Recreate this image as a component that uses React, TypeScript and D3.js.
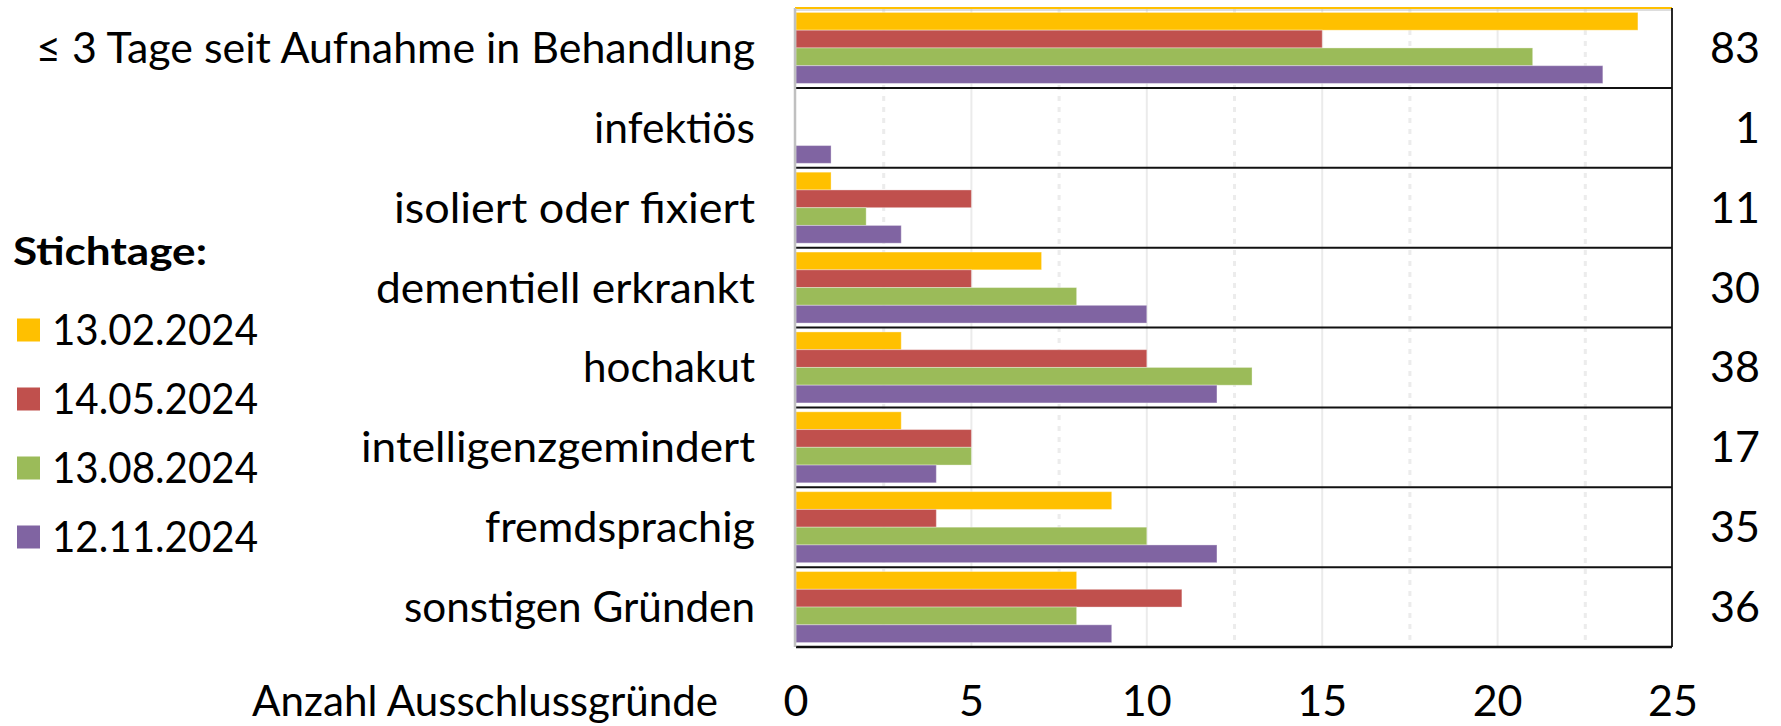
import React from "react";
import * as d3 from "d3";

const categories = [
  "≤ 3 Tage seit Aufnahme in Behandlung",
  "infektiös",
  "isoliert oder fixiert",
  "dementiell erkrankt",
  "hochakut",
  "intelligenzgemindert",
  "fremdsprachig",
  "sonstigen Gründen",
];
const seriesNames = ["13.02.2024", "14.05.2024", "13.08.2024", "12.11.2024"];
const seriesColors = ["#FFC000", "#C0504D", "#9BBB59", "#8064A2"];
const values13_02 = [24, 0, 1, 7, 3, 3, 9, 8];
const values14_05 = [15, 0, 5, 5, 10, 5, 4, 11];
const values13_08 = [21, 0, 2, 8, 13, 5, 10, 8];
const values12_11 = [23, 1, 3, 10, 12, 4, 12, 9];
const totals = [83, 1, 11, 30, 38, 17, 35, 36];
const xTicks = [0, 5, 10, 15, 20, 25];
const minorTicks = [2.5, 7.5, 12.5, 17.5, 22.5];
const labelWidths = [719, 161, 361, 379, 172, 394, 270, 351];

const series = [values13_02, values14_05, values13_08, values12_11];

const W = 1781;
const H = 726;
const FONT = "Lato, 'DejaVu Sans', sans-serif";

export default function App() {
  const x = d3.scaleLinear().domain([0, 25]).range([796, 1673]);
  const y = d3.scaleBand<string>().domain(categories).range([8, 647]);
  const inner = d3
    .scaleBand<number>()
    .domain(d3.range(series.length))
    .range([0, y.bandwidth()])
    .paddingInner(0)
    .paddingOuter(0.25);
  const top = 8;
  const bottom = 647;

  return (
    <svg
      width={W}
      height={H}
      style={{ position: "absolute", left: 0, top: 0, background: "#fff" }}
      fontFamily={FONT}
    >
      <rect x={0} y={0} width={W} height={H} fill="#fff" />
      {/* gridlines */}
      {minorTicks.map((t) => (
        <line
          key={"m" + t}
          x1={x(t)}
          x2={x(t)}
          y1={top}
          y2={bottom}
          stroke="#ececec"
          strokeWidth={3}
          strokeDasharray="5,6"
        />
      ))}
      {xTicks.slice(1, -1).map((t) => (
        <line
          key={"g" + t}
          x1={x(t)}
          x2={x(t)}
          y1={top}
          y2={bottom}
          stroke="#ebebeb"
          strokeWidth={2}
        />
      ))}
      {/* bars */}
      {categories.map((c, ci) => (
        <g key={c}>
          {series.map((s, si) =>
            s[ci] > 0 ? (
              <rect
                key={si}
                x={x(0)}
                y={(y(c) as number) + (inner(si) as number)}
                width={x(s[ci]) - x(0)}
                height={inner.bandwidth()}
                fill={seriesColors[si]}
                stroke="#fff"
                strokeOpacity={0.35}
                strokeWidth={1}
              />
            ) : null
          )}
        </g>
      ))}
      {/* separators */}
      {categories.slice(1).map((c) => (
        <line
          key={"s" + c}
          x1={x(0)}
          x2={1672}
          y1={y(c) as number}
          y2={y(c) as number}
          stroke="#111"
          strokeWidth={2}
        />
      ))}
      <line x1={x(0)} x2={1672} y1={bottom} y2={bottom} stroke="#111" strokeWidth={2.5} />
      <line x1={x(0) - 1} x2={1672} y1={top} y2={top} stroke="#FFC000" strokeWidth={2} />
      <line x1={x(0) - 1} x2={1672} y1={top + 2} y2={top + 2} stroke="#bbb" strokeWidth={1} />
      <line x1={1672} x2={1672} y1={top} y2={bottom} stroke="#111" strokeWidth={1.8} />
      <line x1={795} x2={795} y1={top} y2={bottom} stroke="#c0c0c0" strokeWidth={2.5} />
      {/* category labels */}
      {categories.map((c, ci) => (
        <text
          key={"l" + c}
          x={755}
          y={(y(c) as number) + y.bandwidth() / 2 + 15}
          textAnchor="end"
          fontSize={43}
          fill="#000"
          textLength={labelWidths[ci]}
          lengthAdjust="spacingAndGlyphs"
        >
          {c}
        </text>
      ))}
      {/* totals */}
      {categories.map((c, ci) => (
        <text
          key={"t" + c}
          x={1760}
          y={(y(c) as number) + y.bandwidth() / 2 + 15}
          textAnchor="end"
          fontSize={43}
          fill="#000"
        >
          {totals[ci]}
        </text>
      ))}
      {/* x axis ticks */}
      {xTicks.map((t) => (
        <text key={"x" + t} x={x(t)} y={716} textAnchor="middle" fontSize={43} fill="#000">
          {t}
        </text>
      ))}
      <text
        x={718}
        y={716}
        textAnchor="end"
        fontSize={43}
        fill="#000"
        textLength={466}
        lengthAdjust="spacingAndGlyphs"
      >
        Anzahl Ausschlussgründe
      </text>
      {/* legend */}
      <text
        x={13}
        y={265}
        fontSize={39}
        fontWeight="bold"
        fill="#000"
        textLength={194}
        lengthAdjust="spacingAndGlyphs"
      >
        Stichtage:
      </text>
      {seriesNames.map((n, i) => {
        const cy = 330 + i * 69;
        return (
          <g key={n}>
            <rect x={17} y={cy - 11.5} width={23} height={23} fill={seriesColors[i]} />
            <text
              x={52}
              y={cy + 15}
              fontSize={42}
              fill="#000"
              textLength={206}
              lengthAdjust="spacingAndGlyphs"
            >
              {n}
            </text>
          </g>
        );
      })}
    </svg>
  );
}
